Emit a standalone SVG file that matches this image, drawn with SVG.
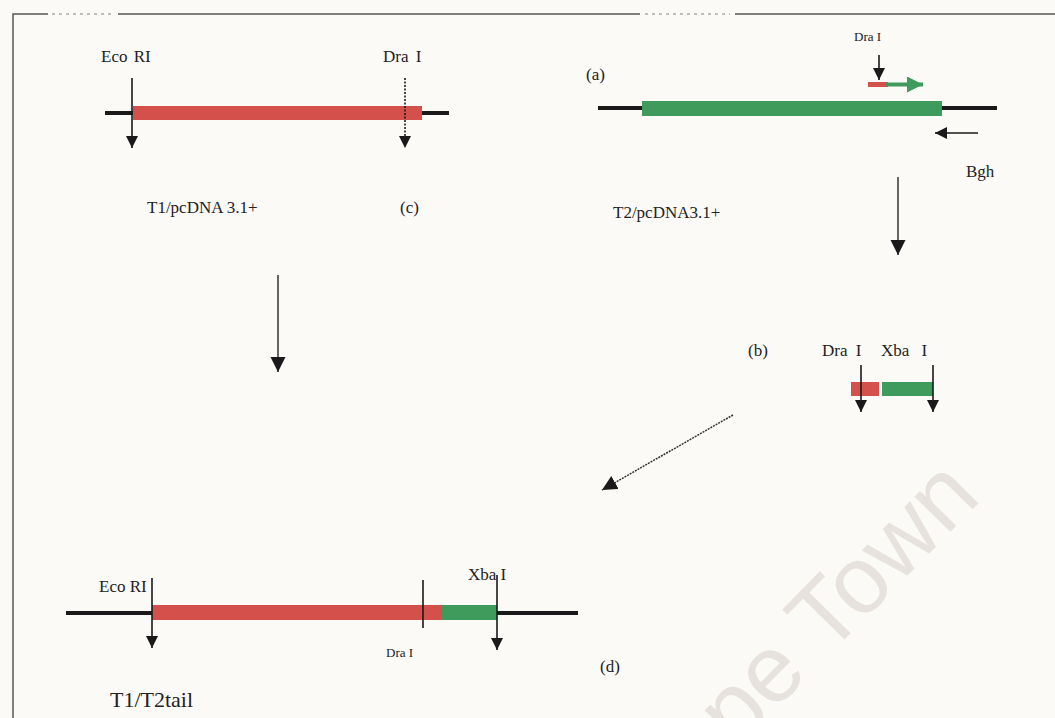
<svg xmlns="http://www.w3.org/2000/svg" width="1055" height="718" viewBox="0 0 1055 718">
<style>
.t{font-family:"Liberation Serif","Times New Roman",serif;fill:#222;font-size:17px}
.s{font-size:13px}
.big{font-size:22px}
.dna{stroke:#1a1a1a;stroke-width:4;fill:none}
.cut{stroke:#1a1a1a;stroke-width:1.6;fill:none}
.flow{stroke:#333;stroke-width:1.5;fill:none}
.red{fill:#d4504a}
.green{fill:#3f9b5c}
</style>
<defs>
<marker id="hd" markerUnits="userSpaceOnUse" markerWidth="14" markerHeight="14" refX="12" refY="6" orient="auto">
<path d="M0,0 L12,6 L0,12 Z" fill="#1a1a1a"/>
</marker>
<marker id="hb" markerUnits="userSpaceOnUse" markerWidth="18" markerHeight="18" refX="15" refY="7.5" orient="auto">
<path d="M0,0 L15,7.5 L0,15 Z" fill="#1a1a1a"/>
</marker>
<marker id="hg" markerUnits="userSpaceOnUse" markerWidth="20" markerHeight="20" refX="16" refY="8" orient="auto">
<path d="M0,0 L16,8 L0,16 Z" fill="#3f9b5c"/>
</marker>
</defs>
<rect width="1055" height="718" fill="#fcfaf7"/>
<g id="watermark">
<text transform="translate(736,750) rotate(-45.5)" font-family="Liberation Sans,Arial,sans-serif" font-size="95" fill="#e7e2de">pe Town</text>
</g>
<g id="frame" stroke="#555" stroke-width="1.5" fill="none">
<path d="M13,718 V14 H48"/>
<path d="M118,14 H640"/>
<path d="M735,14 H1055"/>
<path d="M52,14 H115 M645,14 H730" stroke="#aaa" stroke-dasharray="3 4"/>
</g>
<g id="panel-c">
<line class="dna" x1="105" y1="113" x2="449" y2="113"/>
<rect class="red" x="133" y="106" width="289" height="14"/>
<line class="cut" x1="132" y1="78" x2="132" y2="148" marker-end="url(#hd)"/>
<line class="cut" x1="405" y1="78" x2="405" y2="148" stroke="#555" stroke-dasharray="2 1.5" marker-end="url(#hd)"/>
<text class="t" x="101" y="62" word-spacing="2">Eco RI</text>
<text class="t" x="383" y="62" word-spacing="3">Dra I</text>
<text class="t" x="147" y="213">T1/pcDNA 3.1+</text>
<text class="t" x="400" y="213">(c)</text>
</g>
<g id="panel-a">
<line class="dna" x1="598" y1="108" x2="997" y2="108" stroke-width="3"/>
<rect class="green" x="642" y="101" width="300" height="15"/>
<rect class="red" x="868" y="82" width="20" height="5"/>
<line x1="886" y1="84.5" x2="923" y2="84.5" stroke="#3f9b5c" stroke-width="4" marker-end="url(#hg)"/>
<line class="cut" x1="879" y1="55" x2="879" y2="80" marker-end="url(#hd)"/>
<line class="cut" x1="978" y1="133" x2="935" y2="133" marker-end="url(#hd)"/>
<text class="t" x="586" y="80">(a)</text>
<text class="t s" x="854" y="41">Dra I</text>
<text class="t" x="966" y="177">Bgh</text>
<text class="t" x="613" y="218">T2/pcDNA3.1+</text>
</g>
<g id="panel-b">
<rect class="red" x="851" y="382" width="28" height="14"/>
<rect class="green" x="882" y="382" width="51" height="14"/>
<line class="cut" x1="861" y1="365" x2="861" y2="412" marker-end="url(#hd)"/>
<line class="cut" x1="933" y1="365" x2="933" y2="412" marker-end="url(#hd)"/>
<text class="t" x="748" y="356">(b)</text>
<text class="t" x="822" y="356" word-spacing="4">Dra I</text>
<text class="t" x="881" y="356" word-spacing="8">Xba I</text>
</g>
<g id="panel-d">
<line class="dna" x1="66" y1="613" x2="578" y2="613"/>
<rect class="red" x="152" y="605" width="290" height="15"/>
<rect class="green" x="442" y="605" width="55" height="15"/>
<line class="cut" x1="423" y1="580" x2="423" y2="628"/>
<line class="cut" x1="152" y1="578" x2="152" y2="648" marker-end="url(#hd)"/>
<line class="cut" x1="497" y1="575" x2="497" y2="650" marker-end="url(#hd)"/>
<text class="t" x="99" y="592">Eco RI</text>
<text class="t" x="468" y="580">Xba I</text>
<text class="t s" x="386" y="657">Dra I</text>
<text class="t" x="600" y="672">(d)</text>
<text class="t big" x="110" y="707">T1/T2tail</text>
</g>
<g id="connectors">
<line class="flow" x1="278" y1="275" x2="278" y2="372" marker-end="url(#hb)"/>
<line class="flow" x1="898" y1="177" x2="898" y2="255" marker-end="url(#hb)"/>
<line class="flow" x1="733" y1="415" x2="602" y2="490" stroke-dasharray="2 1" marker-end="url(#hb)"/>
</g>
</svg>
